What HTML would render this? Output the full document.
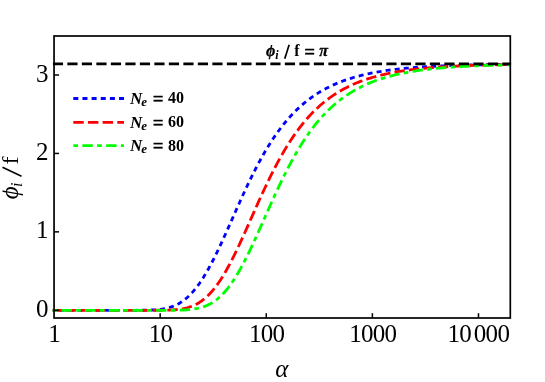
<!DOCTYPE html>
<html><head><meta charset="utf-8"><title>plot</title>
<style>
html,body{margin:0;padding:0;background:#fff;}
svg{display:block;will-change:transform;}
text{font-family:"Liberation Serif",serif;fill:#000;}
.t{font-size:25px;}
.ls{letter-spacing:-0.7px;}
.b{font-size:16px;font-weight:bold;}
.i{font-style:italic;}
.h{stroke:#000;stroke-width:0.3px;}
</style></head><body>
<svg width="545" height="382" viewBox="0 0 545 382">
<rect x="0" y="0" width="545" height="382" fill="#fff"/>
<defs><clipPath id="cp"><rect x="52.449999999999996" y="36.0" width="458.65" height="282.0"/></clipPath></defs>
<g clip-path="url(#cp)" fill="none" stroke-linejoin="round">
<polyline points="52.46,310.30 54.23,310.30 56.00,310.30 57.77,310.30 59.54,310.30 61.31,310.30 63.08,310.30 64.85,310.30 66.62,310.30 68.39,310.30 70.16,310.30 71.93,310.30 73.70,310.30 75.47,310.30 77.24,310.30 79.01,310.30 80.78,310.30 82.55,310.30 84.32,310.30 86.09,310.30 87.86,310.30 89.63,310.30 91.40,310.30 93.17,310.30 94.95,310.30 96.72,310.30 98.49,310.30 100.26,310.30 102.03,310.30 103.80,310.30 105.57,310.30 107.34,310.30 109.11,310.30 110.88,310.30 112.65,310.30 114.42,310.30 116.19,310.30 117.96,310.30 119.73,310.30 121.50,310.30 123.27,310.30 125.04,310.30 126.81,310.30 128.58,310.30 130.35,310.29 132.12,310.29 133.89,310.29 135.66,310.28 137.43,310.27 139.20,310.26 140.97,310.25 142.74,310.23 144.51,310.20 146.28,310.17 148.05,310.12 149.82,310.07 151.59,309.99 153.36,309.90 155.14,309.79 156.91,309.65 158.68,309.48 160.45,309.27 162.22,309.02 163.99,308.73 165.76,308.38 167.53,307.98 169.30,307.50 171.07,306.96 172.84,306.34 174.61,305.63 176.38,304.82 178.15,303.92 179.92,302.91 181.69,301.79 183.46,300.55 185.23,299.19 187.00,297.70 188.77,296.08 190.54,294.33 192.31,292.44 194.08,290.41 195.85,288.23 197.62,285.92 199.39,283.47 201.16,280.89 202.93,278.16 204.70,275.31 206.47,272.33 208.24,269.22 210.01,266.00 211.78,262.67 213.55,259.24 215.32,255.71 217.10,252.10 218.87,248.41 220.64,244.64 222.41,240.82 224.18,236.95 225.95,233.03 227.72,229.08 229.49,225.11 231.26,221.12 233.03,217.13 234.80,213.14 236.57,209.16 238.34,205.20 240.11,201.26 241.88,197.36 243.65,193.50 245.42,189.68 247.19,185.92 248.96,182.21 250.73,178.56 252.50,174.98 254.27,171.46 256.04,168.01 257.81,164.64 259.58,161.34 261.35,158.12 263.12,154.97 264.89,151.91 266.66,148.92 268.43,146.01 270.20,143.19 271.97,140.44 273.74,137.77 275.51,135.19 277.28,132.68 279.06,130.24 280.83,127.88 282.60,125.60 284.37,123.39 286.14,121.25 287.91,119.18 289.68,117.18 291.45,115.24 293.22,113.37 294.99,111.57 296.76,109.82 298.53,108.14 300.30,106.51 302.07,104.94 303.84,103.43 305.61,101.97 307.38,100.56 309.15,99.21 310.92,97.90 312.69,96.63 314.46,95.42 316.23,94.25 318.00,93.12 319.77,92.03 321.54,90.98 323.31,89.97 325.08,88.99 326.85,88.06 328.62,87.15 330.39,86.28 332.16,85.44 333.93,84.64 335.70,83.86 337.47,83.11 339.24,82.39 341.02,81.70 342.79,81.03 344.56,80.39 346.33,79.77 348.10,79.17 349.87,78.60 351.64,78.05 353.41,77.51 355.18,77.00 356.95,76.51 358.72,76.04 360.49,75.58 362.26,75.14 364.03,74.72 365.80,74.31 367.57,73.92 369.34,73.54 371.11,73.18 372.88,72.83 374.65,72.49 376.42,72.17 378.19,71.86 379.96,71.56 381.73,71.27 383.50,70.99 385.27,70.73 387.04,70.47 388.81,70.22 390.58,69.99 392.35,69.76 394.12,69.54 395.89,69.32 397.66,69.12 399.43,68.92 401.21,68.73 402.98,68.55 404.75,68.38 406.52,68.21 408.29,68.05 410.06,67.89 411.83,67.74 413.60,67.60 415.37,67.46 417.14,67.32 418.91,67.19 420.68,67.07 422.45,66.95 424.22,66.84 425.99,66.73 427.76,66.62 429.53,66.52 431.30,66.42 433.07,66.32 434.84,66.23 436.61,66.14 438.38,66.06 440.15,65.98 441.92,65.90 443.69,65.83 445.46,65.75 447.23,65.68 449.00,65.62 450.77,65.55 452.54,65.49 454.31,65.43 456.08,65.37 457.85,65.32 459.62,65.26 461.39,65.21 463.17,65.16 464.94,65.12 466.71,65.07 468.48,65.03 470.25,64.98 472.02,64.94 473.79,64.90 475.56,64.87 477.33,64.83 479.10,64.80 480.87,64.76 482.64,64.73 484.41,64.70 486.18,64.67 487.95,64.64 489.72,64.61 491.49,64.59 493.26,64.56 495.03,64.54 496.80,64.51 498.57,64.49 500.34,64.47 502.11,64.45 503.88,64.43 505.65,64.41 507.42,64.39 509.19,64.37 510.96,64.35" stroke="#0000ff" stroke-width="2.8" stroke-dasharray="5 4.15" stroke-dashoffset="2.2"/>
<polyline points="52.46,310.30 54.23,310.30 56.00,310.30 57.77,310.30 59.54,310.30 61.31,310.30 63.08,310.30 64.85,310.30 66.62,310.30 68.39,310.30 70.16,310.30 71.93,310.30 73.70,310.30 75.47,310.30 77.24,310.30 79.01,310.30 80.78,310.30 82.55,310.30 84.32,310.30 86.09,310.30 87.86,310.30 89.63,310.30 91.40,310.30 93.17,310.30 94.95,310.30 96.72,310.30 98.49,310.30 100.26,310.30 102.03,310.30 103.80,310.30 105.57,310.30 107.34,310.30 109.11,310.30 110.88,310.30 112.65,310.30 114.42,310.30 116.19,310.30 117.96,310.30 119.73,310.30 121.50,310.30 123.27,310.30 125.04,310.30 126.81,310.30 128.58,310.30 130.35,310.30 132.12,310.30 133.89,310.30 135.66,310.30 137.43,310.30 139.20,310.30 140.97,310.30 142.74,310.30 144.51,310.30 146.28,310.30 148.05,310.30 149.82,310.29 151.59,310.29 153.36,310.29 155.14,310.28 156.91,310.27 158.68,310.26 160.45,310.24 162.22,310.22 163.99,310.19 165.76,310.15 167.53,310.10 169.30,310.04 171.07,309.96 172.84,309.85 174.61,309.73 176.38,309.58 178.15,309.39 179.92,309.17 181.69,308.90 183.46,308.58 185.23,308.21 187.00,307.77 188.77,307.27 190.54,306.69 192.31,306.03 194.08,305.28 195.85,304.43 197.62,303.49 199.39,302.43 201.16,301.26 202.93,299.96 204.70,298.55 206.47,297.00 208.24,295.32 210.01,293.50 211.78,291.55 213.55,289.46 215.32,287.22 217.10,284.85 218.87,282.34 220.64,279.69 222.41,276.91 224.18,274.00 225.95,270.96 227.72,267.80 229.49,264.53 231.26,261.16 233.03,257.68 234.80,254.12 236.57,250.46 238.34,246.74 240.11,242.95 241.88,239.10 243.65,235.21 245.42,231.27 247.19,227.31 248.96,223.33 250.73,219.34 252.50,215.35 254.27,211.36 256.04,207.39 257.81,203.44 259.58,199.52 261.35,195.64 263.12,191.79 264.89,188.00 266.66,184.26 268.43,180.58 270.20,176.96 271.97,173.40 273.74,169.91 275.51,166.50 277.28,163.16 279.06,159.89 280.83,156.71 282.60,153.60 284.37,150.57 286.14,147.62 287.91,144.75 289.68,141.96 291.45,139.24 293.22,136.61 294.99,134.06 296.76,131.58 298.53,129.18 300.30,126.86 302.07,124.60 303.84,122.42 305.61,120.32 307.38,118.28 309.15,116.31 310.92,114.40 312.69,112.56 314.46,110.78 316.23,109.06 318.00,107.41 319.77,105.81 321.54,104.26 323.31,102.77 325.08,101.34 326.85,99.95 328.62,98.62 330.39,97.33 332.16,96.09 333.93,94.89 335.70,93.74 337.47,92.63 339.24,91.55 341.02,90.52 342.79,89.53 344.56,88.57 346.33,87.65 348.10,86.76 349.87,85.90 351.64,85.08 353.41,84.29 355.18,83.52 356.95,82.79 358.72,82.08 360.49,81.40 362.26,80.74 364.03,80.11 365.80,79.50 367.57,78.91 369.34,78.35 371.11,77.81 372.88,77.28 374.65,76.78 376.42,76.30 378.19,75.83 379.96,75.38 381.73,74.95 383.50,74.53 385.27,74.13 387.04,73.75 388.81,73.38 390.58,73.02 392.35,72.68 394.12,72.35 395.89,72.03 397.66,71.73 399.43,71.43 401.21,71.15 402.98,70.87 404.75,70.61 406.52,70.36 408.29,70.12 410.06,69.88 411.83,69.66 413.60,69.44 415.37,69.23 417.14,69.03 418.91,68.84 420.68,68.65 422.45,68.47 424.22,68.30 425.99,68.14 427.76,67.98 429.53,67.82 431.30,67.68 433.07,67.53 434.84,67.40 436.61,67.26 438.38,67.14 440.15,67.02 441.92,66.90 443.69,66.79 445.46,66.68 447.23,66.57 449.00,66.47 450.77,66.38 452.54,66.28 454.31,66.19 456.08,66.11 457.85,66.02 459.62,65.94 461.39,65.87 463.17,65.79 464.94,65.72 466.71,65.65 468.48,65.59 470.25,65.52 472.02,65.46 473.79,65.40 475.56,65.35 477.33,65.29 479.10,65.24 480.87,65.19 482.64,65.14 484.41,65.10 486.18,65.05 487.95,65.01 489.72,64.97 491.49,64.93 493.26,64.89 495.03,64.85 496.80,64.82 498.57,64.78 500.34,64.75 502.11,64.72 503.88,64.69 505.65,64.66 507.42,64.63 509.19,64.60 510.96,64.57" stroke="#ff0000" stroke-width="2.8" stroke-dasharray="10.35 4.2" stroke-dashoffset="1.5"/>
<polyline points="52.46,310.30 54.23,310.30 56.00,310.30 57.77,310.30 59.54,310.30 61.31,310.30 63.08,310.30 64.85,310.30 66.62,310.30 68.39,310.30 70.16,310.30 71.93,310.30 73.70,310.30 75.47,310.30 77.24,310.30 79.01,310.30 80.78,310.30 82.55,310.30 84.32,310.30 86.09,310.30 87.86,310.30 89.63,310.30 91.40,310.30 93.17,310.30 94.95,310.30 96.72,310.30 98.49,310.30 100.26,310.30 102.03,310.30 103.80,310.30 105.57,310.30 107.34,310.30 109.11,310.30 110.88,310.30 112.65,310.30 114.42,310.30 116.19,310.30 117.96,310.30 119.73,310.30 121.50,310.30 123.27,310.30 125.04,310.30 126.81,310.30 128.58,310.30 130.35,310.30 132.12,310.30 133.89,310.30 135.66,310.30 137.43,310.30 139.20,310.30 140.97,310.30 142.74,310.30 144.51,310.30 146.28,310.30 148.05,310.30 149.82,310.30 151.59,310.30 153.36,310.30 155.14,310.30 156.91,310.30 158.68,310.30 160.45,310.30 162.22,310.29 163.99,310.29 165.76,310.29 167.53,310.28 169.30,310.28 171.07,310.26 172.84,310.25 174.61,310.23 176.38,310.20 178.15,310.17 179.92,310.13 181.69,310.07 183.46,310.00 185.23,309.91 187.00,309.79 188.77,309.65 190.54,309.49 192.31,309.28 194.08,309.04 195.85,308.74 197.62,308.40 199.39,307.99 201.16,307.53 202.93,306.98 204.70,306.36 206.47,305.66 208.24,304.86 210.01,303.96 211.78,302.96 213.55,301.84 215.32,300.61 217.10,299.25 218.87,297.77 220.64,296.16 222.41,294.41 224.18,292.52 225.95,290.50 227.72,288.33 229.49,286.03 231.26,283.58 233.03,281.00 234.80,278.28 236.57,275.44 238.34,272.46 240.11,269.36 241.88,266.15 243.65,262.82 245.42,259.39 247.19,255.87 248.96,252.26 250.73,248.57 252.50,244.81 254.27,240.99 256.04,237.12 257.81,233.20 259.58,229.25 261.35,225.28 263.12,221.29 264.89,217.30 266.66,213.31 268.43,209.33 270.20,205.37 271.97,201.43 273.74,197.53 275.51,193.67 277.28,189.85 279.06,186.08 280.83,182.37 282.60,178.72 284.37,175.13 286.14,171.61 287.91,168.16 289.68,164.78 291.45,161.48 293.22,158.25 294.99,155.11 296.76,152.04 298.53,149.05 300.30,146.14 302.07,143.31 303.84,140.56 305.61,137.89 307.38,135.30 309.15,132.78 310.92,130.35 312.69,127.98 314.46,125.70 316.23,123.48 318.00,121.34 319.77,119.27 321.54,117.26 323.31,115.32 325.08,113.45 326.85,111.64 328.62,109.90 330.39,108.21 332.16,106.58 333.93,105.01 335.70,103.50 337.47,102.03 339.24,100.62 341.02,99.26 342.79,97.95 344.56,96.69 346.33,95.47 348.10,94.30 349.87,93.16 351.64,92.07 353.41,91.02 355.18,90.01 356.95,89.03 358.72,88.10 360.49,87.19 362.26,86.32 364.03,85.48 365.80,84.67 367.57,83.89 369.34,83.14 371.11,82.42 372.88,81.73 374.65,81.06 376.42,80.41 378.19,79.79 379.96,79.20 381.73,78.62 383.50,78.07 385.27,77.54 387.04,77.02 388.81,76.53 390.58,76.06 392.35,75.60 394.12,75.16 395.89,74.74 397.66,74.33 399.43,73.94 401.21,73.56 402.98,73.20 404.75,72.85 406.52,72.51 408.29,72.18 410.06,71.87 411.83,71.57 413.60,71.28 415.37,71.01 417.14,70.74 418.91,70.48 420.68,70.23 422.45,70.00 424.22,69.77 425.99,69.55 427.76,69.33 429.53,69.13 431.30,68.93 433.07,68.74 434.84,68.56 436.61,68.38 438.38,68.22 440.15,68.05 441.92,67.90 443.69,67.75 445.46,67.60 447.23,67.46 449.00,67.33 450.77,67.20 452.54,67.08 454.31,66.96 456.08,66.84 457.85,66.73 459.62,66.62 461.39,66.52 463.17,66.42 464.94,66.33 466.71,66.24 468.48,66.15 470.25,66.06 472.02,65.98 473.79,65.90 475.56,65.83 477.33,65.76 479.10,65.69 480.87,65.62 482.64,65.56 484.41,65.49 486.18,65.43 487.95,65.38 489.72,65.32 491.49,65.27 493.26,65.22 495.03,65.17 496.80,65.12 498.57,65.07 500.34,65.03 502.11,64.99 503.88,64.95 505.65,64.91 507.42,64.87 509.19,64.83 510.96,64.80" stroke="#00ff00" stroke-width="2.8" stroke-dasharray="4.7 4.3 10.36 4.3"/>
<line x1="52.85" y1="63.93" x2="512.3" y2="63.93" stroke="#000" stroke-width="2.7" stroke-dasharray="10.2 4.3"/>
</g>
<rect x="54.05" y="36.0" width="456.25" height="282.0" fill="none" stroke="#000" stroke-width="1.7"/>
<g stroke="#000" stroke-width="1.5">
<line x1="54.05" y1="310.30" x2="59.05" y2="310.30"/>
<line x1="54.05" y1="231.87" x2="59.05" y2="231.87"/>
<line x1="54.05" y1="153.44" x2="59.05" y2="153.44"/>
<line x1="54.05" y1="75.01" x2="59.05" y2="75.01"/>
<line x1="160.16" y1="318.0" x2="160.16" y2="313.2"/>
<line x1="266.27" y1="318.0" x2="266.27" y2="313.2"/>
<line x1="372.38" y1="318.0" x2="372.38" y2="313.2"/>
<line x1="478.49" y1="318.0" x2="478.49" y2="313.2"/>
</g>
<line x1="73.3" y1="98.5" x2="124" y2="98.5" stroke="#0000ff" stroke-width="2.8" stroke-dasharray="5 4.15"/>
<line x1="73.3" y1="122.3" x2="124" y2="122.3" stroke="#ff0000" stroke-width="2.8" stroke-dasharray="10.45 4.2"/>
<line x1="73.3" y1="145.6" x2="124" y2="145.6" stroke="#00ff00" stroke-width="2.8" stroke-dasharray="4.75 4.3 10.45 4.3"/>
<text class="b"><tspan class="i" x="129.9" y="103.9" font-size="17">N</tspan><tspan class="i" x="141.3" y="106.30000000000001" font-size="13">e</tspan><tspan class="h" x="152.7" y="105.0" font-size="19">=</tspan><tspan x="168.0" y="103.4">40</tspan></text>
<text class="b"><tspan class="i" x="129.9" y="127.7" font-size="17">N</tspan><tspan class="i" x="141.3" y="130.1" font-size="13">e</tspan><tspan class="h" x="152.7" y="128.8" font-size="19">=</tspan><tspan x="168.0" y="127.2">60</tspan></text>
<text class="b"><tspan class="i" x="129.9" y="151.0" font-size="17">N</tspan><tspan class="i" x="141.3" y="153.4" font-size="13">e</tspan><tspan class="h" x="152.7" y="152.1" font-size="19">=</tspan><tspan x="168.0" y="150.5">80</tspan></text>
<clipPath id="cph"><rect x="260" y="45.1" width="20" height="14.1"/></clipPath>
<text class="b i h" x="266.0" y="56.1" clip-path="url(#cph)">ϕ</text>
<text class="b"><tspan class="i" x="275.2" y="58.9" font-size="12">i</tspan><tspan x="294.3" y="56.1">f</tspan><tspan class="h" x="304.3" y="57.6" font-size="19">=</tspan><tspan class="i h" x="319.2" y="56.4">π</tspan></text>
<line x1="284.75" y1="58.7" x2="289.15" y2="44.8" stroke="#000" stroke-width="1.7"/>
<text class="t" text-anchor="end" x="48.5" y="316.85">0</text>
<text class="t" text-anchor="end" x="48.5" y="238.42">1</text>
<text class="t" text-anchor="end" x="48.5" y="159.99">2</text>
<text class="t" text-anchor="end" x="48.5" y="81.56">3</text>
<text class="t ls" text-anchor="middle" x="54.05" y="342.1">1</text>
<text class="t ls" text-anchor="middle" x="160.51" y="342.1">10</text>
<text class="t ls" text-anchor="middle" x="266.62" y="342.1">100</text>
<text class="t ls" text-anchor="middle" x="372.73" y="342.1">1000</text>
<text class="t ls" y="342.1"><tspan x="447.5">10</tspan><tspan x="473.8">000</tspan></text>
<text class="t i" text-anchor="middle" x="281.8" y="376.5">α</text>
<clipPath id="cpy"><rect x="-2" y="-15.4" width="20" height="21"/></clipPath>
<g transform="translate(17.9 199.9) rotate(-90)"><text class="t i" x="0.7" y="0" clip-path="url(#cpy)">ϕ</text><text class="t"><tspan class="i" x="13.0" y="3.7" font-size="16">i</tspan><tspan x="35.3" y="0" font-size="24">f</tspan></text><line x1="23.6" y1="3.6" x2="32.6" y2="-15.4" stroke="#000" stroke-width="1.5"/></g>
</svg></body></html>
